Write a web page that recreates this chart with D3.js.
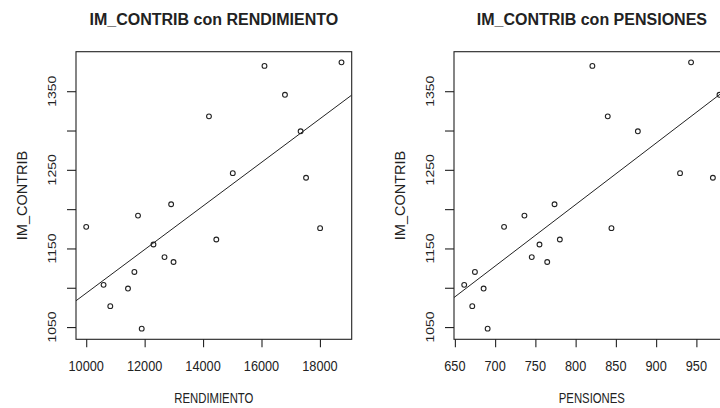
<!DOCTYPE html>
<html>
<head>
<meta charset="utf-8">
<script src="https://cdn.jsdelivr.net/npm/d3@7"></script>
<style>
  html, body { margin: 0; background: #fff; }
  svg { display: block; font-family: "Liberation Sans", Arial, sans-serif; }
</style>
</head>
<body>
<svg id="chart" width="720" height="408"></svg>
<script>
const imContrib   = [1177.5, 1103.7, 1076.6, 1099.0, 1120.1, 1191.8, 1048.0, 1155.0, 1139.0, 1206.2,
                     1132.8, 1318.0, 1161.4, 1245.8, 1382.2, 1345.4, 1299.0, 1239.9, 1175.8, 1386.7];
const rendimiento = [10000, 10594, 10824, 11430, 11649, 11773, 11900, 12302, 12680, 12907,
                     12989, 14202, 14453, 15017, 16102, 16803, 17339, 17525, 18006, 18738];
const pensiones   = [711.1, 661.6, 671.6, 685.7, 674.9, 736.4, 690.7, 755.1, 745.5, 773.8,
                     764.7, 839.9, 780.4, 929.7, 820.8, 978.7, 877.3, 970.5, 844.5, 943.4];

const yTicks       = [1050, 1100, 1150, 1200, 1250, 1300, 1350];
const yTickLabels  = [1050, 1150, 1250, 1350];
const rendTicks    = [10000, 12000, 14000, 16000, 18000];
const pensTicks    = [650, 700, 750, 800, 850, 900, 950, 1000];

const svg = d3.select("#chart");
const INK = "#222";
const PW = 275.7, PH = 287.6, TOP = 51.7;

// R style axis range: data extent padded 4% each side
function rDomain(vals) {
    const [lo, hi] = d3.extent(vals);
    const pad = (hi - lo) * 0.04;
    return [lo - pad, hi + pad];
}

function lm(xs, ys) {
    const mx = d3.mean(xs), my = d3.mean(ys);
    const sxy = d3.sum(xs, (x, i) => (x - mx) * (ys[i] - my));
    const sxx = d3.sum(xs, x => (x - mx) * (x - mx));
    const b = sxy / sxx;
    return { a: my - b * mx, b };
}

// squeeze text horizontally in image space, the source picture is narrow
function placeText(sel, x, y, rot, sx) {
    if (rot) sel.attr("transform", `translate(${x},${y}) rotate(-90) scale(1,${sx})`);
    else sel.attr("transform", `translate(${x},${y}) scale(${sx},1)`);
}

function drawPanel(left, xVals, xTicks, xLabel, title, id) {
    const g = svg.append("g").attr("transform", `translate(${left},${TOP})`);

    const x = d3.scaleLinear().domain(rDomain(xVals)).range([0, PW]);
    const y = d3.scaleLinear().domain(rDomain(imContrib)).range([PH, 0]);

    g.append("clipPath").attr("id", id)
        .append("rect").attr("width", PW).attr("height", PH);

    // regression line
    const fit = lm(xVals, imContrib);
    const [x0, x1] = x.domain();
    g.append("line")
        .attr("clip-path", `url(#${id})`)
        .attr("x1", x(x0)).attr("y1", y(fit.a + fit.b * x0))
        .attr("x2", x(x1)).attr("y2", y(fit.a + fit.b * x1))
        .attr("stroke", INK).attr("stroke-width", 1);

    g.selectAll("circle.pt")
        .data(xVals.map((v, i) => [v, imContrib[i]]))
        .enter().append("circle")
        .attr("class", "pt")
        .attr("cx", d => x(d[0])).attr("cy", d => y(d[1]))
        .attr("r", 2.4)
        .attr("fill", "none").attr("stroke", INK).attr("stroke-width", 1.1);

    g.append("rect")
        .attr("width", PW).attr("height", PH)
        .attr("fill", "none").attr("stroke", INK).attr("stroke-width", 1.1);

    // x axis
    const xa = g.append("g").attr("transform", `translate(0,${PH})`)
        .call(d3.axisBottom(x).tickValues(xTicks).tickSize(8).tickSizeOuter(0).tickFormat(""));
    xa.select(".domain").remove();
    xa.selectAll("line").attr("stroke", INK).attr("stroke-width", 1.1);
    xTicks.forEach(t => {
        if (x(t) > PW) return;
        const tx = xa.append("text").attr("text-anchor", "middle")
            .style("font-size", "14px").attr("fill", INK).text(t);
        placeText(tx, x(t), 32, false, 0.91);
    });

    // y axis
    const ya = g.append("g")
        .call(d3.axisLeft(y).tickValues(yTicks).tickSize(9).tickSizeOuter(0).tickFormat(""));
    ya.select(".domain").remove();
    ya.selectAll("line").attr("stroke", INK).attr("stroke-width", 1.1);
    yTickLabels.forEach(t => {
        const ty = ya.append("text").attr("text-anchor", "middle")
            .style("font-size", "14px").attr("fill", INK).text(t);
        placeText(ty, -20, y(t), true, 0.8);
    });

    // axis titles and main title
    const xt = g.append("text").attr("text-anchor", "middle")
        .style("font-size", "14px").attr("fill", INK).text(xLabel);
    placeText(xt, PW / 2, 403.3 - TOP, false, 0.81);

    const yt = g.append("text").attr("text-anchor", "middle")
        .style("font-size", "14.5px").attr("fill", INK).text("IM_CONTRIB");
    placeText(yt, -49, PH / 2, true, 0.95);

    const tt = g.append("text").attr("text-anchor", "middle")
        .style("font-size", "16px").style("font-weight", "bold").attr("fill", INK).text(title);
    placeText(tt, PW / 2, 24.5 - TOP, false, 1.0);
}

drawPanel(76, rendimiento, rendTicks, "RENDIMIENTO", "IM_CONTRIB con RENDIMIENTO", "clipL");
drawPanel(454, pensiones, pensTicks, "PENSIONES", "IM_CONTRIB con PENSIONES", "clipR");
</script>
</body>
</html>
